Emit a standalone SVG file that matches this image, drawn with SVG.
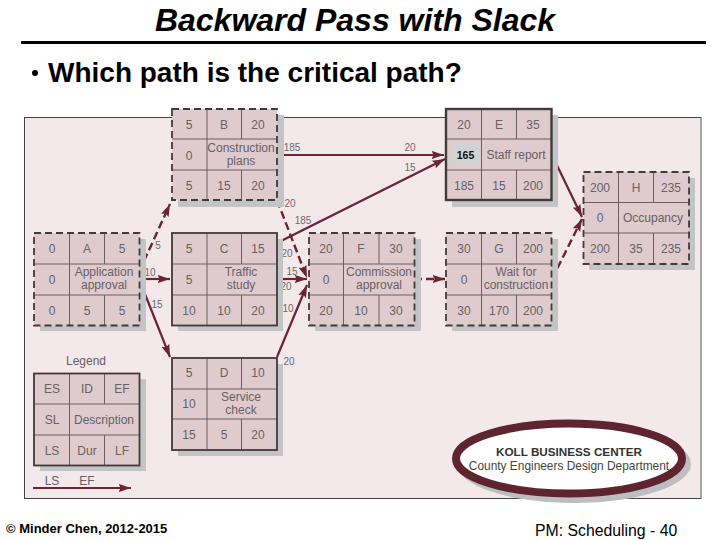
<svg xmlns="http://www.w3.org/2000/svg" width="720" height="540" viewBox="0 0 720 540">
<style>
text{font-family:"Liberation Sans",Arial,sans-serif}
.t{font-size:12px;fill:#666163;text-anchor:middle}
.n{font-size:10px;fill:#6e696a;text-anchor:middle}
.sh{fill:#c3c4c6}
.cell{fill:#dfcbce}
.g{stroke:#6a5e60;stroke-width:1;fill:none}
.s{fill:none;stroke:#403a3b;stroke-width:1.8}
.d{fill:none;stroke:#403a3b;stroke-width:1.8;stroke-dasharray:7 4}
.c{fill:none;stroke:#6b2433;stroke-width:2.2}
.cd{fill:none;stroke:#6b2433;stroke-width:2.4;stroke-dasharray:8 4}
</style>
<defs>
<marker id="ah" viewBox="0 0 12 8" refX="12" refY="4" markerWidth="12.500" markerHeight="9" orient="auto" markerUnits="userSpaceOnUse"><path d="M0 0L12 4L0 8L2 4Z" fill="#6b2433"/></marker>
</defs>
<rect width="720" height="540" fill="#fff"/>
<text x="355" y="31" font-size="32" font-weight="bold" font-style="italic" text-anchor="middle" fill="#000">Backward Pass with Slack</text>
<rect x="21" y="41" width="685" height="3" fill="#000"/>
<circle cx="35" cy="73" r="3" fill="#000"/>
<text x="48" y="82" font-size="28" font-weight="bold" fill="#000">Which path is the critical path?</text>
<rect x="24.500" y="117.500" width="676.500" height="381" fill="#f3e8ea" stroke="#444" stroke-width="1"/>
<path d="M701 118V498" stroke="#aaa" stroke-width="1.500" fill="none"/>

<g id="connectors">
<path class="cd" d="M139 272L170 204" marker-end="url(#ah)"/>
<path class="c" d="M139 279H170" marker-end="url(#ah)"/>
<path class="c" d="M139 279L170 357" marker-end="url(#ah)"/>
<path class="c" d="M277 155H444" marker-end="url(#ah)"/>
<path class="cd" d="M277 200L307 278" marker-end="url(#ah)"/>
<path class="c" d="M277 243L445 159" marker-end="url(#ah)"/>
<path class="c" d="M277 279H307" marker-end="url(#ah)"/>
<path class="c" d="M277 357L307 285" marker-end="url(#ah)"/>
<path class="cd" d="M414 279H445" marker-end="url(#ah)"/>
<path class="c" d="M552 155L582 217" marker-end="url(#ah)"/>
<path class="cd" d="M552 279L582 219" marker-end="url(#ah)"/>
<path class="c" d="M33 488H131" marker-end="url(#ah)"/>
<g id="connector-labels">
<text class="n" x="158" y="249">5</text>
<text class="n" x="150" y="276">10</text>
<text class="n" x="157" y="308">15</text>
<text class="n" x="292" y="151">185</text>
<text class="n" x="290" y="207">20</text>
<text class="n" x="303" y="224">185</text>
<text class="n" x="287" y="257">20</text>
<text class="n" x="292" y="275">15</text>
<text class="n" x="286" y="290">20</text>
<text class="n" x="288" y="312">10</text>
<text class="n" x="289" y="365">20</text>
<text class="n" x="410" y="151">20</text>
<text class="n" x="410" y="171">15</text>
</g>
</g>

<g id="node-A">
<rect class="sh" x="40" y="239" width="106" height="92"/><rect class="cell" x="34" y="233" width="105.500" height="92.500"/>
<path class="g" d="M69.500 233V326M104.500 233V264M104.500 295V326M34 264H139.500M34 295H139.500"/>
<rect class="d" x="34" y="233" width="105.500" height="92.500"/>
<text class="t" x="52" y="253">0</text><text class="t" x="87" y="253">A</text><text class="t" x="122" y="253">5</text>
<text class="t" x="52" y="284">0</text><text class="t" x="104" y="276">Application</text><text class="t" x="104" y="289">approval</text>
<text class="t" x="52" y="315">0</text><text class="t" x="87" y="315">5</text><text class="t" x="122" y="315">5</text>
</g>
<g id="node-B">
<rect class="sh" x="178" y="115" width="106" height="92"/><rect class="cell" x="172" y="109" width="105" height="91"/>
<path class="g" d="M207 109V200M241.500 109V139M241.500 170V200M172 139H277M172 170H277"/>
<rect class="d" x="172" y="109" width="105" height="91"/>
<text class="t" x="189" y="129">5</text><text class="t" x="224" y="129">B</text><text class="t" x="258" y="129">20</text>
<text class="t" x="189" y="160">0</text><text class="t" x="241" y="152">Construction</text><text class="t" x="241" y="165">plans</text>
<text class="t" x="189" y="190">5</text><text class="t" x="224" y="190">15</text><text class="t" x="258" y="190">20</text>
</g>
<g id="node-C">
<rect class="sh" x="178" y="239" width="105" height="92"/><rect class="cell" x="172" y="233" width="105" height="92.500"/>
<path class="g" d="M207 233V326M241.500 233V264M241.500 295V326M172 264H277M172 295H277"/>
<rect class="s" x="172" y="233" width="105" height="92.500"/>
<text class="t" x="189" y="253">5</text><text class="t" x="224" y="253">C</text><text class="t" x="258" y="253">15</text>
<text class="t" x="189" y="284">5</text><text class="t" x="241" y="276">Traffic</text><text class="t" x="241" y="289">study</text>
<text class="t" x="189" y="315">10</text><text class="t" x="224" y="315">10</text><text class="t" x="258" y="315">20</text>
</g>
<g id="node-D">
<rect class="sh" x="178" y="364" width="105" height="92"/><rect class="cell" x="172" y="358" width="105" height="92"/>
<path class="g" d="M207 358V450M241.500 358V389M241.500 419V450M172 389H277M172 419H277"/>
<rect class="s" x="172" y="358" width="105" height="92"/>
<text class="t" x="189" y="377">5</text><text class="t" x="224" y="377">D</text><text class="t" x="258" y="377">10</text>
<text class="t" x="189" y="408">10</text><text class="t" x="241" y="401">Service</text><text class="t" x="241" y="414">check</text>
<text class="t" x="189" y="439">15</text><text class="t" x="224" y="439">5</text><text class="t" x="258" y="439">20</text>
</g>
<g id="node-E">
<rect class="sh" x="452" y="115" width="106" height="92"/><rect class="cell" x="446" y="109" width="105.500" height="91"/>
<path class="g" d="M481.500 109V200M516.500 109V139M516.500 170V200M446 139H551.500M446 170H551.500"/>
<rect x="451" y="143" width="29" height="23" fill="#d2d2d2"/>
<rect x="446" y="109" width="105.500" height="91" fill="none" stroke="#403a3b" stroke-width="2.400"/>
<text class="t" x="464" y="129">20</text><text class="t" x="499" y="129">E</text><text class="t" x="533" y="129">35</text>
<text x="465.500" y="159" font-size="10.500" font-weight="bold" text-anchor="middle" fill="#111">165</text><text class="t" x="516" y="159">Staff report</text>
<text class="t" x="464" y="190">185</text><text class="t" x="499" y="190">15</text><text class="t" x="533" y="190">200</text>
</g>
<g id="node-F">
<rect class="sh" x="315" y="239" width="106" height="92"/><rect class="cell" x="309" y="233" width="105.500" height="92.500"/>
<path class="g" d="M343.500 233V326M379 233V264M379 295V326M309 264H414.500M309 295H414.500"/>
<rect class="d" x="309" y="233" width="105.500" height="92.500"/>
<text class="t" x="326" y="253">20</text><text class="t" x="361" y="253">F</text><text class="t" x="396" y="253">30</text>
<text class="t" x="326" y="284">0</text><text class="t" x="379" y="276">Commission</text><text class="t" x="379" y="289">approval</text>
<text class="t" x="326" y="315">20</text><text class="t" x="361" y="315">10</text><text class="t" x="396" y="315">30</text>
</g>
<g id="node-G">
<rect class="sh" x="452" y="239" width="106" height="92"/><rect class="cell" x="446" y="233" width="105.500" height="92.500"/>
<path class="g" d="M481.500 233V326M516.500 233V264M516.500 295V326M446 264H551.500M446 295H551.500"/>
<rect class="d" x="446" y="233" width="105.500" height="92.500"/>
<text class="t" x="464" y="253">30</text><text class="t" x="499" y="253">G</text><text class="t" x="533" y="253">200</text>
<text class="t" x="464" y="284">0</text><text class="t" x="516" y="276">Wait for</text><text class="t" x="516" y="289">construction</text>
<text class="t" x="464" y="315">30</text><text class="t" x="499" y="315">170</text><text class="t" x="533" y="315">200</text>
</g>
<g id="node-H">
<rect class="sh" x="589" y="178" width="106" height="92"/><rect class="cell" x="583.500" y="172" width="105.500" height="92"/>
<path class="g" d="M618.500 172V264M653.500 172V202M653.500 233V264M583.500 202.500H689M583.500 233H689"/>
<rect class="d" x="583.500" y="172" width="105.500" height="92"/>
<text class="t" x="600" y="192">200</text><text class="t" x="636" y="192">H</text><text class="t" x="671" y="192">235</text>
<text class="t" x="600" y="222">0</text><text class="t" x="653" y="222">Occupancy</text>
<text class="t" x="600" y="253">200</text><text class="t" x="636" y="253">35</text><text class="t" x="671" y="253">235</text>
</g>
<g id="legend">
<text class="t" x="86" y="365">Legend</text>
<rect class="sh" x="40" y="379" width="106" height="92"/><rect class="cell" x="34" y="373.500" width="105.500" height="92"/>
<path class="g" d="M69.500 373.500V465.500M104.500 373.500V404M104.500 435V465.500M34 404H139.500M34 435H139.500"/>
<rect class="s" x="34" y="373.500" width="105.500" height="92"/>
<text class="t" x="52" y="393">ES</text><text class="t" x="87" y="393">ID</text><text class="t" x="122" y="393">EF</text>
<text class="t" x="52" y="424">SL</text><text class="t" x="104" y="424">Description</text>
<text class="t" x="52" y="455">LS</text><text class="t" x="87" y="455">Dur</text><text class="t" x="122" y="455">LF</text>
<text class="t" x="52" y="485">LS</text><text class="t" x="87" y="485">EF</text>
</g>
<g id="badge">
<ellipse cx="574" cy="464" rx="117" ry="39" fill="#bdbec0"/>
<ellipse cx="569" cy="458.500" rx="113" ry="35" fill="#fff" stroke="#5e2430" stroke-width="8"/>
<text x="569" y="456" font-size="11.700" font-weight="bold" text-anchor="middle" fill="#333">KOLL BUSINESS CENTER</text>
<text x="569" y="470" font-size="11.900" text-anchor="middle" fill="#444">County Engineers Design Department</text>
</g>
<text x="6" y="533" font-size="13" font-weight="bold" fill="#000">© Minder Chen, 2012-2015</text>
<text x="535" y="536" font-size="15.800" fill="#000">PM: Scheduling - 40</text>
</svg>
